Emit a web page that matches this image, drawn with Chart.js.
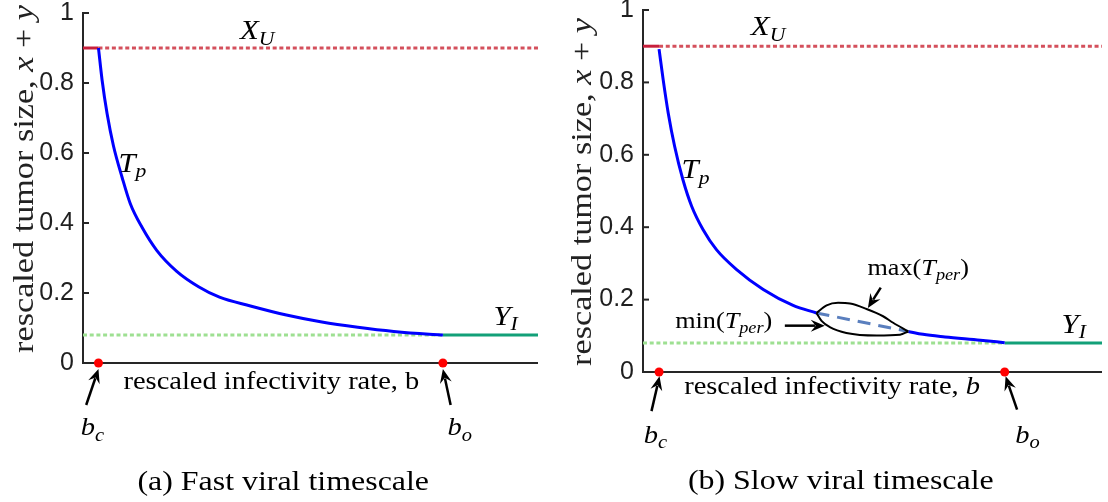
<!DOCTYPE html>
<html>
<head>
<meta charset="utf-8">
<script src="https://cdn.jsdelivr.net/npm/chart.js@4.4.0/dist/chart.umd.min.js"></script>
<style>
  html, body { margin: 0; padding: 0; background: #fff; }
  #wrap { position: relative; width: 1108px; height: 502px; }
  .pane { position: absolute; top: 0; width: 554px; height: 502px; }
</style>
</head>
<body>
<div id="wrap">
  <div class="pane" style="left:0"><canvas id="fast" width="554" height="502"></canvas></div>
  <div class="pane" style="left:554px"><canvas id="slow" width="554" height="502"></canvas></div>
</div>
<script>
// values; b axis has no ticks so it is taken as 0..1
const yTicks = [0, 0.2, 0.4, 0.6, 0.8, 1];
const xuLevel = 0.9;
const yiLevel = 0.08;
const bcFast = 0.034, boFast = 0.791;
const bcSlow = 0.035, boSlow = 0.788;

// (a) fast viral timescale, T_p branch
const bFast  = [0.034, 0.042, 0.053, 0.067, 0.086, 0.104, 0.130, 0.162, 0.206, 0.254, 0.300, 0.368, 0.447, 0.525, 0.604, 0.683, 0.761, 0.791];
const tpFast = [0.900, 0.808, 0.712, 0.620, 0.530, 0.455, 0.387, 0.322, 0.262, 0.218, 0.188, 0.163, 0.137, 0.117, 0.102, 0.090, 0.082, 0.080];

// (b) slow viral timescale, T_p stable before and after the Hopf loop
const bSlowA  = [0.035, 0.044, 0.055, 0.069, 0.087, 0.106, 0.131, 0.160, 0.204, 0.262, 0.327, 0.378];
const tpSlowA = [0.892, 0.807, 0.715, 0.623, 0.531, 0.458, 0.393, 0.338, 0.283, 0.228, 0.184, 0.163];
const bSlowB  = [0.578, 0.610, 0.658, 0.735, 0.788];
const tpSlowB = [0.112, 0.104, 0.097, 0.088, 0.081];
// unstable T_p inside the loop
const bDash  = [0.378, 0.578];
const tpDash = [0.163, 0.112];
// periodic orbit extremes
const bMax = [0.378, 0.400, 0.425, 0.451, 0.487, 0.523, 0.545, 0.578];
const tMax = [0.163, 0.184, 0.191, 0.189, 0.174, 0.154, 0.136, 0.112];
const bMin = [0.378, 0.389, 0.407, 0.443, 0.509, 0.560, 0.578];
const tMin = [0.163, 0.141, 0.124, 0.108, 0.101, 0.103, 0.112];

const AXIS = '#262626';
const RED = '#c8203c', RED_DOT = '#d4505c';
const GREEN = '#12a078', GREEN_DOT = '#9ee092';
const BLUE = '#0000ff';
const SERIF = '"Liberation Serif", "Times New Roman", serif';
const SANS = '"Liberation Sans", Arial, sans-serif';
const SX = 1.14; // widen Times to look like Computer Modern

const pts = (xs, ys) => xs.map((x, i) => ({ x: x, y: ys[i] }));

function line(xs, ys, color, width, dash) {
  return {
    data: pts(xs, ys), borderColor: color, borderWidth: width, borderDash: dash || [],
    borderCapStyle: 'butt', pointRadius: 0, fill: false,
    cubicInterpolationMode: 'monotone', clip: false
  };
}
function dots(xs, ys) {
  return {
    data: pts(xs, ys), showLine: false, pointRadius: 4.5, pointBackgroundColor: '#ff0000',
    pointBorderColor: '#ff0000', pointBorderWidth: 0, clip: false
  };
}

// text/arrow annotations, positions in data units
const NOTES = {
  fast: {
    yTitleX: 33, yTitleY: 179,
    labels: [
      { at: [0.345, 0.926], runs: [['X', 'i'], ['U', 's']], size: 27 },
      { at: [0.078, 0.547], runs: [['T', 'i'], ['p', 's']], size: 27 },
      { at: [0.902, 0.110], runs: [['Y', 'i'], ['I', 's']], size: 27 },
      { at: [0.414, -0.075], runs: [['rescaled infectivity rate, b', 'r']], size: 25, align: 'center' },
      { at: [-0.005, -0.206], runs: [['b', 'i'], ['c', 's']], size: 25 },
      { at: [0.801, -0.206], runs: [['b', 'i'], ['o', 's']], size: 25 },
      { at: [0.44, -0.363], runs: [['(a) Fast viral timescale', 'r']], size: 28, align: 'center' }
    ],
    arrows: [[0.007, -0.12, 0.034, -0.017], [0.808, -0.12, 0.791, -0.017]]
  },
  slow: {
    yTitleX: 37, yTitleY: 192,
    labels: [
      { at: [0.235, 0.932], runs: [['X', 'i'], ['U', 's']], size: 27 },
      { at: [0.084, 0.536], runs: [['T', 'i'], ['p', 's']], size: 27 },
      { at: [0.912, 0.109], runs: [['Y', 'i'], ['I', 's']], size: 27 },
      { at: [0.489, 0.269], runs: [['max(', 'r'], ['T', 'i'], ['per', 's'], [')', 'r']], size: 23 },
      { at: [0.070, 0.122], runs: [['min(', 'r'], ['T', 'i'], ['per', 's'], [')', 'r']], size: 23 },
      { at: [0.412, -0.062], runs: [['rescaled infectivity rate, ', 'r'], ['b', 'i']], size: 25, align: 'center' },
      { at: [0.0015, -0.195], runs: [['b', 'i'], ['c', 's']], size: 25 },
      { at: [0.811, -0.195], runs: [['b', 'i'], ['o', 's']], size: 25 },
      { at: [0.431, -0.324], runs: [['(b) Slow viral timescale', 'r']], size: 28, align: 'center' }
    ],
    arrows: [
      [0.0185, -0.108, 0.036, -0.012], [0.815, -0.104, 0.790, -0.012],
      [0.518, 0.233, 0.490, 0.177], [0.309, 0.128, 0.396, 0.128]
    ]
  }
};
const yTitleRuns = [['rescaled tumor size, ', 'r'], ['x', 'i'], [' + ', 'r'], ['y', 'i']];

function drawRuns(ctx, runs, x, y, size, align) {
  const parts = runs.map(([t, k]) => {
    const sz = k === 's' ? Math.round(size * 0.7) : size;
    const f = (k === 'r' ? '' : 'italic ') + sz + 'px ' + SERIF;
    ctx.font = f;
    return { t: t, f: f, w: ctx.measureText(t).width * SX, dy: k === 's' ? size * 0.22 : 0 };
  });
  const total = parts.reduce((s, p) => s + p.w, 0);
  let cx = align === 'center' ? x - total / 2 : x;
  ctx.textAlign = 'left';
  ctx.textBaseline = 'alphabetic';
  parts.forEach(p => {
    ctx.font = p.f;
    ctx.save();
    ctx.translate(cx, y + p.dy);
    ctx.scale(SX, 1);
    ctx.fillText(p.t, 0, 0);
    ctx.restore();
    cx += p.w;
  });
}

function arrow(ctx, x1, y1, x2, y2) {
  const a = Math.atan2(y2 - y1, x2 - x1), h = 14, w = 6;
  const c = Math.cos(a), s = Math.sin(a);
  ctx.beginPath();
  ctx.moveTo(x1, y1);
  ctx.lineTo(x2 - h * 0.7 * c, y2 - h * 0.7 * s);
  ctx.stroke();
  ctx.beginPath();
  ctx.moveTo(x2, y2);
  ctx.lineTo(x2 - h * c + w * s, y2 - h * s - w * c);
  ctx.lineTo(x2 - h * 0.65 * c, y2 - h * 0.65 * s);
  ctx.lineTo(x2 - h * c - w * s, y2 - h * s + w * c);
  ctx.closePath();
  ctx.fill();
}

const overlay = {
  id: 'overlay',
  beforeDatasetsDraw(chart) {
    const { ctx, chartArea: a, scales: { x, y } } = chart;
    ctx.save();
    ctx.strokeStyle = AXIS;
    ctx.lineWidth = 2;
    ctx.beginPath();
    ctx.moveTo(a.left, y.getPixelForValue(1) - 1);
    ctx.lineTo(a.left, a.bottom);
    ctx.lineTo(x.getPixelForValue(1), a.bottom);
    ctx.stroke();
    yTicks.forEach(v => {
      const py = y.getPixelForValue(v);
      ctx.beginPath();
      ctx.moveTo(a.left, py);
      ctx.lineTo(a.left + 6, py);
      ctx.stroke();
    });
    ctx.restore();
  },
  afterDatasetsDraw(chart) {
    const n = NOTES[chart.canvas.id];
    const { ctx, scales: { x, y } } = chart;
    ctx.save();
    ctx.fillStyle = '#000';
    ctx.strokeStyle = '#000';
    ctx.lineWidth = 2.5;
    n.labels.forEach(l => {
      drawRuns(ctx, l.runs, x.getPixelForValue(l.at[0]), y.getPixelForValue(l.at[1]), l.size, l.align);
    });
    n.arrows.forEach(r => {
      arrow(ctx, x.getPixelForValue(r[0]), y.getPixelForValue(r[1]),
                 x.getPixelForValue(r[2]), y.getPixelForValue(r[3]));
    });
    ctx.save();
    ctx.fillStyle = '#222';
    ctx.translate(n.yTitleX, n.yTitleY);
    ctx.rotate(-Math.PI / 2);
    drawRuns(ctx, yTitleRuns, 0, 0, 30, 'center');
    ctx.restore();
    ctx.restore();
  }
};

function makeChart(id, datasets, axisW, pad) {
  return new Chart(document.getElementById(id), {
    type: 'line',
    data: { datasets: datasets },
    options: {
      responsive: false,
      animation: false,
      devicePixelRatio: 1,
      layout: { padding: pad },
      plugins: { legend: { display: false }, tooltip: { enabled: false } },
      scales: {
        x: { type: 'linear', min: 0, max: 1, display: false },
        y: {
          type: 'linear', min: 0, max: 1,
          grid: { display: false, drawTicks: false },
          border: { display: false },
          ticks: {
            color: '#1f1f1f', padding: 9,
            font: { family: SANS, size: 25 },
            callback: v => String(v)
          },
          afterBuildTicks: s => { s.ticks = yTicks.map(v => ({ value: v })); },
          afterFit: s => { s.width = axisW; s.paddingTop = 0; s.paddingBottom = 0; }
        }
      }
    },
    plugins: [overlay]
  });
}

makeChart('fast', [
  dots([bcFast, boFast], [0, 0]),
  line(bFast, tpFast, BLUE, 3),
  line([boFast, 1], [yiLevel, yiLevel], GREEN, 3),
  line([0, bcFast], [xuLevel, xuLevel], RED, 3),
  line([bcFast, 1], [xuLevel, xuLevel], RED_DOT, 3, [4, 2.7]),
  line([0, boFast], [yiLevel, yiLevel], GREEN_DOT, 3, [4, 2.7])
], 83, { left: 0, right: 16, top: 13, bottom: 139 });

makeChart('slow', [
  dots([bcSlow, boSlow], [0, 0]),
  line(bMax, tMax, '#000', 2),
  line(bMin, tMin, '#000', 2),
  line(bDash, tpDash, '#5a7fbe', 3, [13, 8]),
  line(bSlowA, tpSlowA, BLUE, 3),
  line(bSlowB, tpSlowB, BLUE, 3),
  line([boSlow, 1], [yiLevel, yiLevel], GREEN, 3),
  line([0, bcSlow], [xuLevel, xuLevel], RED, 3),
  line([bcSlow, 1], [xuLevel, xuLevel], RED_DOT, 3, [4, 2.7]),
  line([0, boSlow], [yiLevel, yiLevel], GREEN_DOT, 3, [4, 2.7])
], 89, { left: 0, right: 6, top: 10, bottom: 130 });
</script>
</body>
</html>
